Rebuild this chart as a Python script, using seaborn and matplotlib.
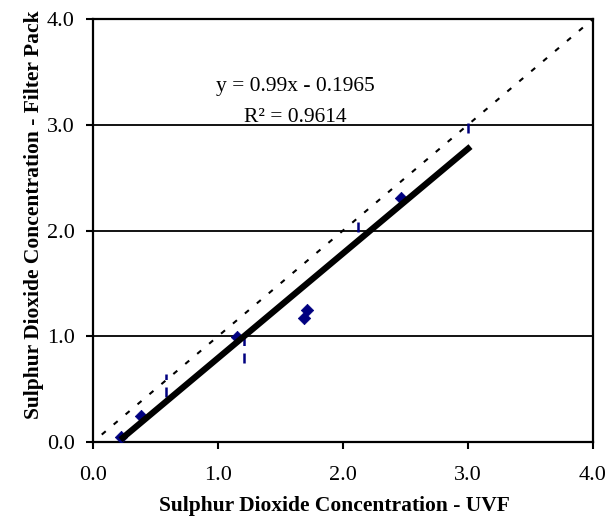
import matplotlib
matplotlib.use("Agg")
import matplotlib.pyplot as plt
import seaborn as sns
import numpy as np
import pandas as pd

# Data
uvf = [0.22, 0.38, 1.15, 1.69, 1.71, 2.46]
filter_pack = [0.05, 0.25, 0.99, 1.17, 1.25, 2.31]
seg_x = [0.58, 1.21, 2.12, 3.00]
seg_lo = [0.43, 0.75, 1.99, 2.92]
seg_hi = [0.64, 1.02, 2.08, 3.03]
slope = 0.99
intercept = -0.1965
r2 = 0.9614
trend_range = [0.22, 3.02]
ticks = [0.0, 1.0, 2.0, 3.0, 4.0]
one_to_one = [0.07, 4.0]

sns.set_style("white")
plt.rcParams["font.family"] = ["Liberation Serif", "DejaVu Serif"]
plt.rcParams["text.color"] = "black"
plt.rcParams["axes.labelcolor"] = "black"
plt.rcParams["xtick.color"] = "black"
plt.rcParams["ytick.color"] = "black"

fig = plt.figure(figsize=(6.08, 5.24), dpi=100)
ax = fig.add_axes([93/608, 1-442/524, 500/608, 423/524])

# horizontal grid lines
for t in ticks[1:]:
    ax.axhline(t, color="black", lw=1.3, zorder=1)

# 1:1 line
df11 = pd.DataFrame({"x": one_to_one, "y": one_to_one})
sns.lineplot(data=df11, x="x", y="y", ax=ax, color="black", lw=1.5,
             zorder=2)
ax.lines[-1].set_dashes((2.5, 5))

# vertical dashed segments
ax.vlines(seg_x, seg_lo, seg_hi, colors="#000080", lw=1.8,
          linestyles=(0, (4, 3)), zorder=3)

# data points
df = pd.DataFrame({"UVF": uvf, "FP": filter_pack})
sns.scatterplot(data=df, x="UVF", y="FP", ax=ax, marker="D", s=40,
                color="#000080", edgecolor="#000080", zorder=4)

# trendline
tx = np.array(trend_range)
dft = pd.DataFrame({"x": tx, "y": slope*tx + intercept})
sns.lineplot(data=dft, x="x", y="y", ax=ax, color="black", lw=4.5,
             zorder=5)
ax.lines[-1].set_solid_capstyle("butt")

ax.text(1.62, 3.36, f"y = {slope}x - {abs(intercept)}", ha="center",
        va="center", fontsize=15.5)
ax.text(1.62, 3.07, f"R² = {r2}", ha="center", va="center", fontsize=15.5)

ax.set_xlim(0, 4)
ax.set_ylim(0, 4)
ax.set_xticks(ticks)
ax.set_yticks(ticks)
ax.set_xticklabels([f"{t:.1f}" for t in ticks], fontsize=16)
ax.set_yticklabels([f"{t:.1f}" for t in ticks], fontsize=16)
ax.tick_params(direction="out", length=5, width=1.5, color="black",
               bottom=True, left=True)
ax.tick_params(axis="x", pad=12)
ax.tick_params(axis="y", pad=8)
for s in ax.spines.values():
    s.set_color("black")
    s.set_linewidth(1.6)
ax.grid(False)

ax.set_xlabel("Sulphur Dioxide Concentration - UVF", fontsize=15.5,
              fontweight="bold")
ax.set_ylabel("Sulphur Dioxide Concentration - Filter Pack", fontsize=15.5,
              fontweight="bold")
ax.xaxis.set_label_coords(0.482, -0.128)
ax.yaxis.set_label_coords(-0.098, 0.537)
legend = ax.get_legend()
if legend:
    legend.remove()

fig.savefig("out.png", dpi=100)
